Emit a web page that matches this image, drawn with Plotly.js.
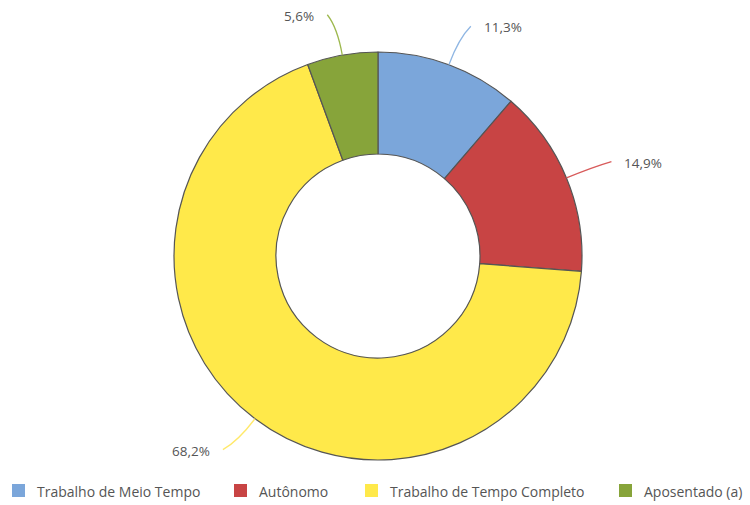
<!DOCTYPE html>
<html><head><meta charset="utf-8">
<script src="https://cdn.plot.ly/plotly-3.0.1.min.js"></script>
<style>html,body{margin:0;padding:0;background:#fff}</style>
</head><body>
<div id="chart" style="width:750px;height:505px"></div>
<script>
const categories = ["Trabalho de Meio Tempo", "Autônomo", "Trabalho de Tempo Completo", "Aposentado (a)"];
const values = [11.3, 14.9, 68.2, 5.6];
const colors = ["#7BA6DA", "#C84444", "#FFE94A", "#87A43A"];
const lineColors = ["#8FB6E3", "#D85A5A", "#FFE96A", "#9DB84E"];

const W = 750, H = 505;
const cx = 378, cy = 256, R = 204;
const total = values.reduce((a, b) => a + b, 0);
const fmt = v => (v / total * 100).toFixed(1).replace('.', ',') + '%';
const px = x => x / W, py = y => 1 - y / H;

const shapes = [], annotations = [];
let cum = 0;
values.forEach((v, i) => {
  const mid = (cum + v / 2) / total * 2 * Math.PI; cum += v;
  const s = Math.sin(mid), c = Math.cos(mid);
  const sx = cx + R * s, sy = cy - R * c;
  const qx = sx + 28 * s, qy = sy - 28 * c;
  const dir = s >= 0 ? 1 : -1;
  const ex = sx + 40 * s + 8 * dir, ey = sy - 40 * c - 1;
  shapes.push({type: 'path', xref: 'paper', yref: 'paper',
    path: `M${px(sx)},${py(sy)} Q${px(qx)},${py(qy)} ${px(ex)},${py(ey)}`,
    line: {color: lineColors[i], width: 1.3}});
  annotations.push({xref: 'paper', yref: 'paper', x: px(ex + 11 * dir), y: py(ey + 1),
    xanchor: dir > 0 ? 'left' : 'right', yanchor: 'middle', showarrow: false,
    text: fmt(v), font: {family: 'Open Sans, sans-serif', size: 13.5, color: '#555'}});
});

// manual legend
const legX = [12, 234, 365, 619];
categories.forEach((cat, i) => {
  shapes.push({type: 'rect', xref: 'paper', yref: 'paper',
    x0: px(legX[i]), x1: px(legX[i] + 13), y0: py(497), y1: py(484),
    fillcolor: colors[i], line: {width: 0}});
  annotations.push({xref: 'paper', yref: 'paper', x: px(legX[i] + 23), y: py(491),
    xanchor: 'left', yanchor: 'middle', showarrow: false, text: cat,
    font: {family: 'Open Sans, sans-serif', size: 14, color: '#555'}});
});

const trace = {
  type: 'pie', labels: categories, values: values, hole: 0.5,
  sort: false, direction: 'clockwise', rotation: 0,
  marker: {colors: colors, line: {color: '#555', width: 1.2}},
  textinfo: 'none', hoverinfo: 'label+percent',
  domain: {x: [px(cx - R), px(cx + R)], y: [py(cy + R), py(cy - R)]}
};

Plotly.newPlot('chart', [trace], {
  width: W, height: H, margin: {l: 0, r: 0, t: 0, b: 0},
  showlegend: false, paper_bgcolor: '#fff',
  shapes: shapes, annotations: annotations
}, {displayModeBar: false, staticPlot: true});
</script>
</body></html>
